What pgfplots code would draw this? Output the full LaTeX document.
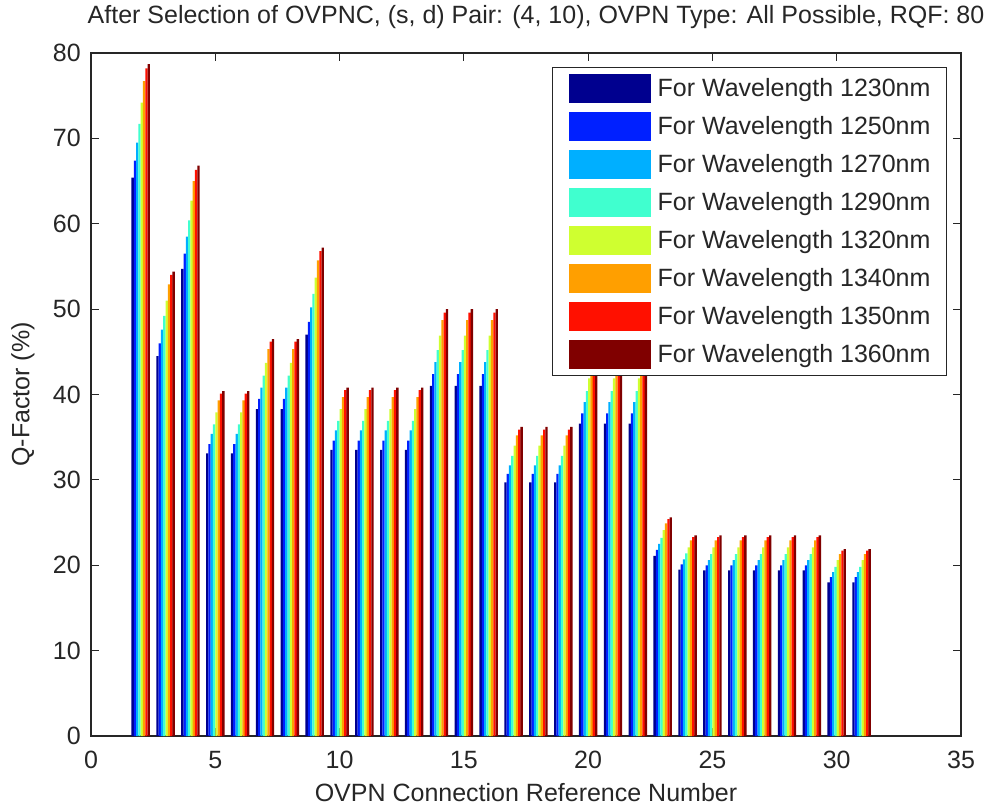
\documentclass[border=0pt]{standalone}
\usepackage{fontspec}
\setmainfont{Liberation Sans}
\usepackage{pgfplots}
\usepackage{pgfplotstable}
\pgfplotsset{compat=1.18}
\definecolor{c1}{rgb}{0,0,0.5625}
\definecolor{c2}{rgb}{0,0.125,1}
\definecolor{c3}{rgb}{0,0.6875,1}
\definecolor{c4}{rgb}{0.25,1,0.8125}
\definecolor{c5}{rgb}{0.8125,1,0.1875}
\definecolor{c6}{rgb}{1,0.625,0}
\definecolor{c7}{rgb}{1,0.0625,0}
\definecolor{c8}{rgb}{0.5,0,0}
\pgfplotstableread{
g  w1   w2   w3   w4   w5   w6   w7   w8
2  65.4 67.4 69.5 71.7 74.2 76.7 78.2 78.7
3  44.5 46.0 47.6 49.2 51.0 52.9 54.0 54.4
4  54.7 56.5 58.5 60.4 62.7 65.0 66.3 66.8
5  33.1 34.2 35.4 36.5 37.9 39.3 40.1 40.4
6  33.1 34.2 35.4 36.5 37.9 39.3 40.1 40.4
7  38.3 39.5 40.8 42.2 43.7 45.3 46.2 46.5
8  38.3 39.5 40.8 42.2 43.7 45.3 46.2 46.5
9  47.0 48.5 50.2 51.8 53.7 55.7 56.8 57.2
10 33.5 34.6 35.8 36.9 38.3 39.7 40.5 40.8
11 33.5 34.6 35.8 36.9 38.3 39.7 40.5 40.8
12 33.5 34.6 35.8 36.9 38.3 39.7 40.5 40.8
13 33.5 34.6 35.8 36.9 38.3 39.7 40.5 40.8
14 41.0 42.4 43.8 45.2 46.9 48.7 49.6 50.0
15 41.0 42.4 43.8 45.2 46.9 48.7 49.6 50.0
16 41.0 42.4 43.8 45.2 46.9 48.7 49.6 50.0
17 29.7 30.7 31.7 32.8 34.0 35.2 35.9 36.2
18 29.7 30.7 31.7 32.8 34.0 35.2 35.9 36.2
19 29.7 30.7 31.7 32.8 34.0 35.2 35.9 36.2
20 36.6 37.8 39.1 40.4 41.9 43.4 44.3 44.6
21 36.6 37.8 39.1 40.4 41.9 43.4 44.3 44.6
22 36.6 37.8 39.1 40.4 41.9 43.4 44.3 44.6
23 21.1 21.8 22.5 23.2 24.1 24.9 25.4 25.6
24 19.5 20.1 20.7 21.4 22.1 22.9 23.3 23.5
25 19.4 20.0 20.6 21.3 22.1 22.9 23.3 23.5
26 19.4 20.0 20.6 21.3 22.1 22.9 23.3 23.5
27 19.4 20.0 20.6 21.3 22.1 22.9 23.3 23.5
28 19.4 20.0 20.6 21.3 22.1 22.9 23.3 23.5
29 19.4 20.0 20.6 21.3 22.1 22.9 23.3 23.5
30 18.0 18.6 19.2 19.8 20.6 21.3 21.7 21.9
31 18.0 18.6 19.2 19.8 20.6 21.3 21.7 21.9
}\qdata
\begin{document}
\begin{tikzpicture}
\useasboundingbox (-91pt,-72pt) rectangle (909pt,736pt);
\begin{axis}[
  scale only axis,
  width=870pt, height=683pt,
  xmin=0, xmax=35, ymin=0, ymax=80,
  xtick={0,5,...,35}, ytick={0,10,...,80},
  tick align=inside, major tick length=8pt,
  xtick pos=both, ytick pos=both,
  axis line style={black!85, line width=1.1pt},
  every tick/.style={black!85, line width=1.1pt},
  font=\fontsize{25}{30}\selectfont,
  /pgf/number format/assume math mode=true,
  ticklabel style={font=\fontsize{25}{30}\selectfont, text=black!85},
  xticklabel style={anchor=base, inner sep=0pt, yshift=-32pt},
  yticklabel style={anchor=east, inner sep=0pt, xshift=-10pt},
  title={After Selection of OVPNC, (s, d) Pair: (4, 10), OVPN Type: All Possible, RQF: 80},
  title style={at={(0.5115,1.0337)}, anchor=base, inner sep=0pt, text=black!85},
  xlabel={OVPN Connection Reference Number},
  xlabel style={at={(0.5,-0.0966)}, anchor=base, inner sep=0pt, text=black!85},
  ylabel={Q-Factor (\%)},
  ylabel style={at={(-0.0782,0.5)}, anchor=center, inner sep=0pt, text=black!85},
  legend style={at={(0.9839,0.9795)}, anchor=north east, draw=black!85, line width=1pt,
    fill=white, inner xsep=16pt, inner ysep=2pt, column sep=7pt, row sep=0pt,
    font=\fontsize{25}{30}\selectfont, text=black!85,
    nodes={inner sep=0pt, minimum height=38pt}},
  legend cell align=left,
  legend image code/.code={\fill[#1,draw=none] (0pt,-14.5pt) rectangle (82pt,14.5pt);},
  qbar/.style={ybar, bar width=0.095, bar shift=0pt, draw=none, fill=#1},
]
\addplot[qbar=c1] table[x expr=\thisrow{g}-0.32375, y=w1] {\qdata};
\addplot[qbar=c2] table[x expr=\thisrow{g}-0.23125, y=w2] {\qdata};
\addplot[qbar=c3] table[x expr=\thisrow{g}-0.13875, y=w3] {\qdata};
\addplot[qbar=c4] table[x expr=\thisrow{g}-0.04625, y=w4] {\qdata};
\addplot[qbar=c5] table[x expr=\thisrow{g}+0.04625, y=w5] {\qdata};
\addplot[qbar=c6] table[x expr=\thisrow{g}+0.13875, y=w6] {\qdata};
\addplot[qbar=c7] table[x expr=\thisrow{g}+0.23125, y=w7] {\qdata};
\addplot[qbar=c8] table[x expr=\thisrow{g}+0.32375, y=w8] {\qdata};
\legend{For Wavelength 1230nm, For Wavelength 1250nm, For Wavelength 1270nm, For Wavelength 1290nm, For Wavelength 1320nm, For Wavelength 1340nm, For Wavelength 1350nm, For Wavelength 1360nm}
\end{axis}
\end{tikzpicture}
\end{document}
